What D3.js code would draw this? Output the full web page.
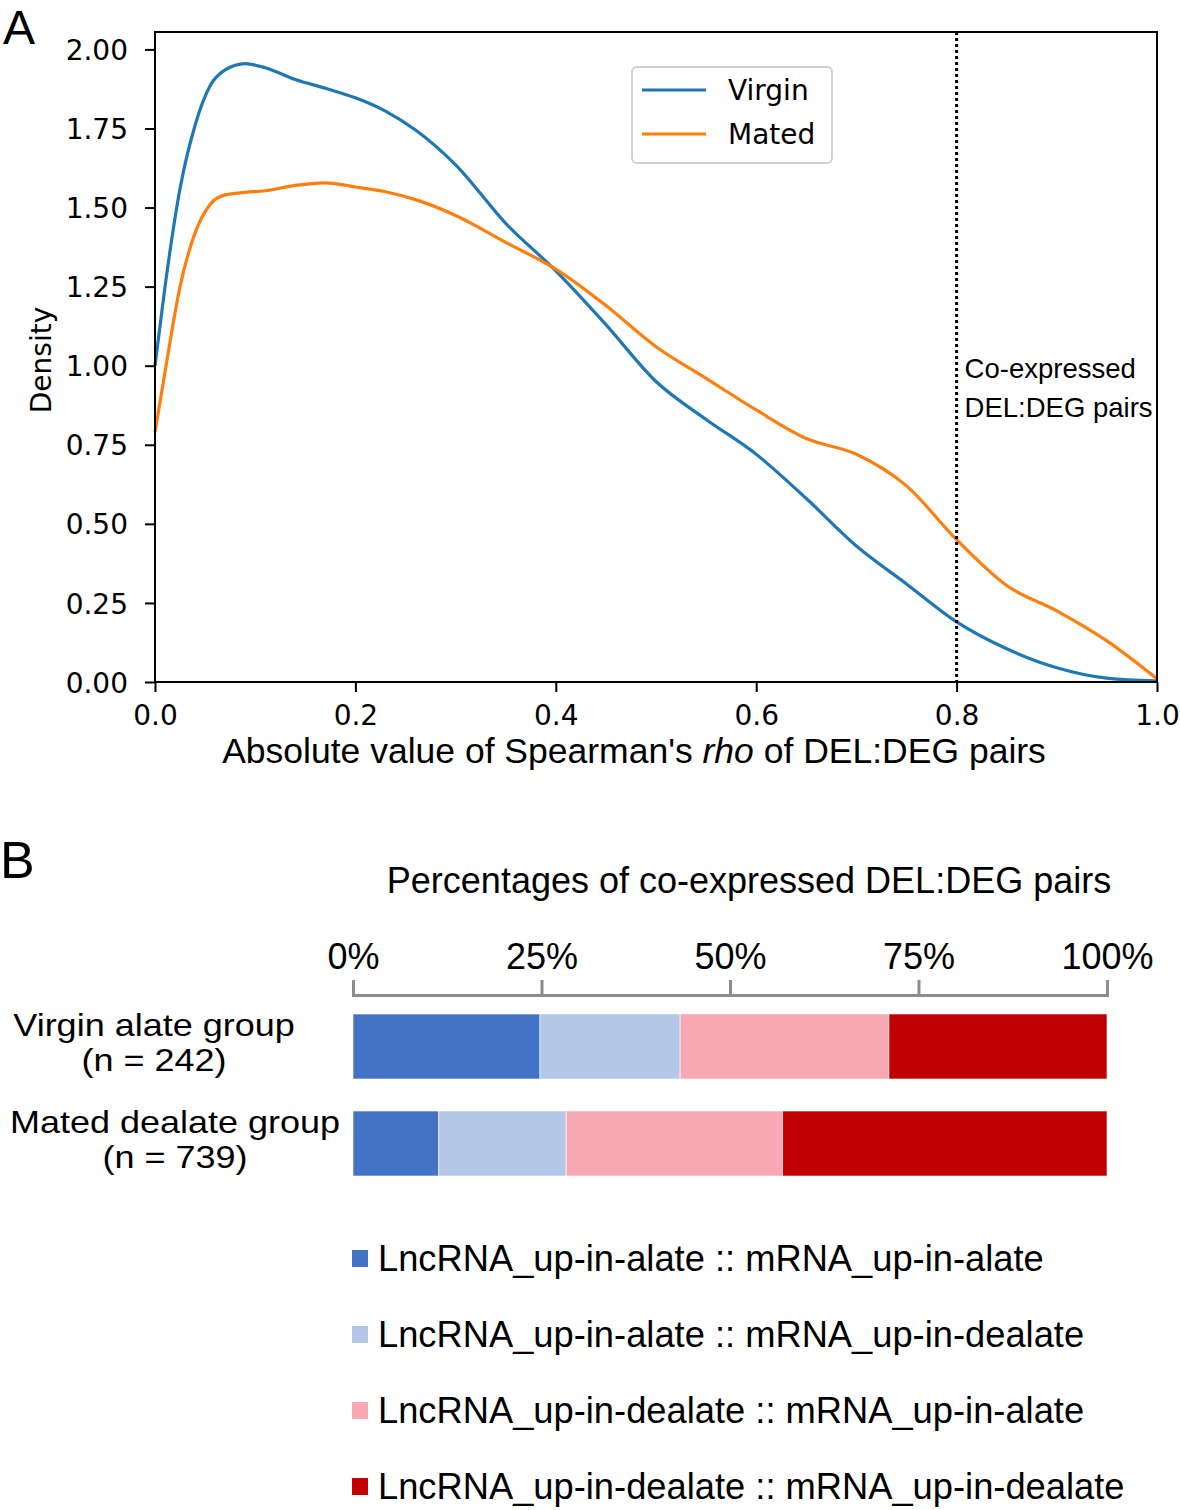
<!DOCTYPE html>
<html>
<head>
<meta charset="utf-8">
<script src="https://cdn.jsdelivr.net/npm/d3@7"></script>
<style>
  html, body { margin: 0; padding: 0; background: #fff; }
  svg { display: block; }
</style>
</head>
<body>
<svg id="chart" width="1180" height="1510"></svg>
<script>
// ---- panel A data: density of |rho| ----
const rhoGrid = [0, 0.01, 0.025, 0.04, 0.055, 0.07, 0.09, 0.11, 0.14, 0.17, 0.2, 0.23, 0.26, 0.3,
                 0.35, 0.4, 0.45, 0.5, 0.55, 0.6, 0.65, 0.7, 0.75, 0.8, 0.85, 0.9, 0.95, 1.0];
const virginDensity = [1.00, 1.25, 1.56, 1.76, 1.885, 1.935, 1.955, 1.942, 1.905, 1.877, 1.847, 1.805, 1.745, 1.635,
                       1.45, 1.30, 1.13, 0.95, 0.83, 0.72, 0.58, 0.43, 0.31, 0.19, 0.105, 0.045, 0.012, 0.003];
const matedDensity  = [0.79, 0.98, 1.25, 1.42, 1.51, 1.54, 1.548, 1.553, 1.57, 1.578, 1.565, 1.55, 1.525, 1.475,
                       1.39, 1.305, 1.19, 1.06, 0.96, 0.86, 0.77, 0.72, 0.62, 0.45, 0.305, 0.225, 0.13, 0.01];
const seriesNames = ["Virgin", "Mated"];
const seriesColors = ["#1f77b4", "#ff7f0e"];
const xTicksA = [0, 0.2, 0.4, 0.6, 0.8, 1.0];
const yTicksA = [0, 0.25, 0.5, 0.75, 1.0, 1.25, 1.5, 1.75, 2.0];
const cutoff = 0.8;

// ---- panel B data: counts of co-expressed pairs ----
const groups = ["Virgin alate group", "Mated dealate group"];
const groupN = [242, 739];
const pairTypes = ["LncRNA_up-in-alate :: mRNA_up-in-alate",
                   "LncRNA_up-in-alate :: mRNA_up-in-dealate",
                   "LncRNA_up-in-dealate :: mRNA_up-in-alate",
                   "LncRNA_up-in-dealate :: mRNA_up-in-dealate"];
const virginCounts = [60, 45, 67, 70];
const matedCounts  = [84, 125, 212, 318];
const pairColors = ["#4472c4", "#b4c7e7", "#f7a8b2", "#c00000"];
const pctTicks = [0, 25, 50, 75, 100];

const svg = d3.select("#chart");
const tickFont = "'DejaVu Sans', sans-serif";
const arial = "'Liberation Sans', Arial, sans-serif";

// ================= Panel A =================
const A = { left: 155, right: 1157, top: 32, bottom: 682 };
const x = d3.scaleLinear().domain([0, 1]).range([A.left, A.right]);
const y = d3.scaleLinear().domain([0, 2.055]).range([A.bottom, A.top]);

svg.append("text").attr("x", 3).attr("y", 44)
  .attr("font-family", arial).attr("font-size", 48).text("A");

const gA = svg.append("g");

const xAxis = gA.append("g")
  .attr("transform", `translate(0,${A.bottom})`)
  .call(d3.axisBottom(x).tickValues(xTicksA).tickFormat(d3.format(".1f")).tickSize(10).tickPadding(8));
const yAxis = gA.append("g")
  .attr("transform", `translate(${A.left},0)`)
  .call(d3.axisLeft(y).tickValues(yTicksA).tickFormat(d3.format(".2f")).tickSize(10).tickPadding(17));
[xAxis, yAxis].forEach(ax => {
  ax.select(".domain").remove();
  ax.selectAll(".tick line").attr("stroke", "#000").attr("stroke-width", 2);
  ax.selectAll(".tick text").attr("font-family", tickFont).attr("font-size", 28).attr("fill", "#000");
});
xAxis.selectAll(".tick text").attr("dy", "0.9em");
yAxis.selectAll(".tick text").attr("dy", "0.36em");

// curves
const line = d3.line().x((d, i) => x(rhoGrid[i])).y(d => y(d)).curve(d3.curveMonotoneX);
[virginDensity, matedDensity].forEach((s, k) => {
  gA.append("path").datum(s)
    .attr("d", line)
    .attr("fill", "none")
    .attr("stroke", seriesColors[k])
    .attr("stroke-width", 3.2);
});

// cutoff
gA.append("line")
  .attr("x1", x(cutoff)).attr("x2", x(cutoff))
  .attr("y1", A.top).attr("y2", A.bottom)
  .attr("stroke", "#000").attr("stroke-width", 3).attr("stroke-dasharray", "3,3");
const note = gA.append("text").attr("font-family", arial).attr("font-size", 27.5).attr("fill", "#000");
note.append("tspan").attr("x", x(cutoff) + 8).attr("y", 378).text("Co-expressed");
note.append("tspan").attr("x", x(cutoff) + 8).attr("y", 417).text("DEL:DEG pairs");

// frame
gA.append("rect")
  .attr("x", A.left).attr("y", A.top)
  .attr("width", A.right - A.left).attr("height", A.bottom - A.top)
  .attr("fill", "none").attr("stroke", "#000").attr("stroke-width", 2);

// legend
const leg = gA.append("g").attr("transform", "translate(632,67)");
leg.append("rect").attr("width", 200).attr("height", 96).attr("rx", 5)
  .attr("fill", "#fff").attr("stroke", "#d0d0d0").attr("stroke-width", 2);
seriesNames.forEach((n, k) => {
  const yy = 23 + k * 44;
  leg.append("line").attr("x1", 10).attr("x2", 74).attr("y1", yy).attr("y2", yy)
    .attr("stroke", seriesColors[k]).attr("stroke-width", 3.2);
  leg.append("text").attr("x", 96).attr("y", yy + 10)
    .attr("font-family", tickFont).attr("font-size", 28).attr("fill", "#000").text(n);
});

// axis labels
svg.append("text")
  .attr("transform", "translate(51,360) rotate(-90)")
  .attr("text-anchor", "middle")
  .attr("font-family", tickFont).attr("font-size", 28).text("Density");
const xl = svg.append("text").attr("x", 634).attr("y", 763).attr("text-anchor", "middle")
  .attr("font-family", arial).attr("font-size", 35.5);
xl.append("tspan").text("Absolute value of Spearman's ");
xl.append("tspan").attr("font-style", "italic").text("rho");
xl.append("tspan").text(" of DEL:DEG pairs");

// ================= Panel B =================
svg.append("text").attr("x", 0).attr("y", 878)
  .attr("font-family", arial).attr("font-size", 52).text("B");

const px = d3.scaleLinear().domain([0, 100]).range([353, 1107]);
const py = d3.scaleBand().domain(groups).range([1014, 1176]).paddingInner(0.33);

svg.append("text").attr("x", 749).attr("y", 893).attr("text-anchor", "middle")
  .attr("font-family", arial).attr("font-size", 36).text("Percentages of co-expressed DEL:DEG pairs");

const pAxis = svg.append("g").attr("transform", "translate(0,995)")
  .call(d3.axisTop(px).tickValues(pctTicks).tickFormat(d => d + "%").tickSize(15).tickPadding(11));
pAxis.select(".domain").attr("stroke", "#8c8c8c").attr("stroke-width", 3);
pAxis.selectAll(".tick line").attr("stroke", "#8c8c8c").attr("stroke-width", 3);
pAxis.selectAll(".tick text").attr("font-family", arial).attr("font-size", 36).attr("fill", "#000");

const stackRows = groups.map((g, i) => {
  const counts = i === 0 ? virginCounts : matedCounts;
  const row = { group: g };
  pairTypes.forEach((t, j) => row[t] = counts[j] / groupN[i] * 100);
  return row;
});
const stacked = d3.stack().keys(pairTypes)(stackRows);

svg.append("g").selectAll("g")
  .data(stacked).enter().append("g")
  .attr("fill", (d, j) => pairColors[j])
  .selectAll("rect")
  .data(d => d).enter().append("rect")
  .attr("x", d => px(d[0]))
  .attr("width", d => px(d[1]) - px(d[0]))
  .attr("y", d => py(d.data.group))
  .attr("height", py.bandwidth())
  .attr("stroke", "#fff").attr("stroke-opacity", 0.6).attr("stroke-width", 1);

// group labels (two lines, slightly squashed vertically as in the original)
const labelCenters = [154, 175];
groups.forEach((g, i) => {
  const top = py(g);
  const t = svg.append("g").attr("transform", `translate(${labelCenters[i]},${top}) scale(1,0.86)`)
    .append("text").attr("text-anchor", "middle")
    .attr("font-family", arial).attr("font-size", 36).attr("fill", "#000");
  t.append("tspan").attr("x", 0).attr("y", 22 / 0.86).text(g);
  t.append("tspan").attr("x", 0).attr("y", 57 / 0.86).text(`(n = ${groupN[i]})`);
});

// legend B
const legB = svg.append("g").attr("transform", "translate(352,1258)");
pairTypes.forEach((t, j) => {
  const gy = j * 76;
  legB.append("rect").attr("x", 0).attr("y", gy - 8).attr("width", 16).attr("height", 17)
    .attr("fill", pairColors[j]);
  legB.append("text").attr("x", 26).attr("y", gy + 13)
    .attr("font-family", arial).attr("font-size", 36.3).attr("fill", "#000").text(t);
});
</script>
</body>
</html>
